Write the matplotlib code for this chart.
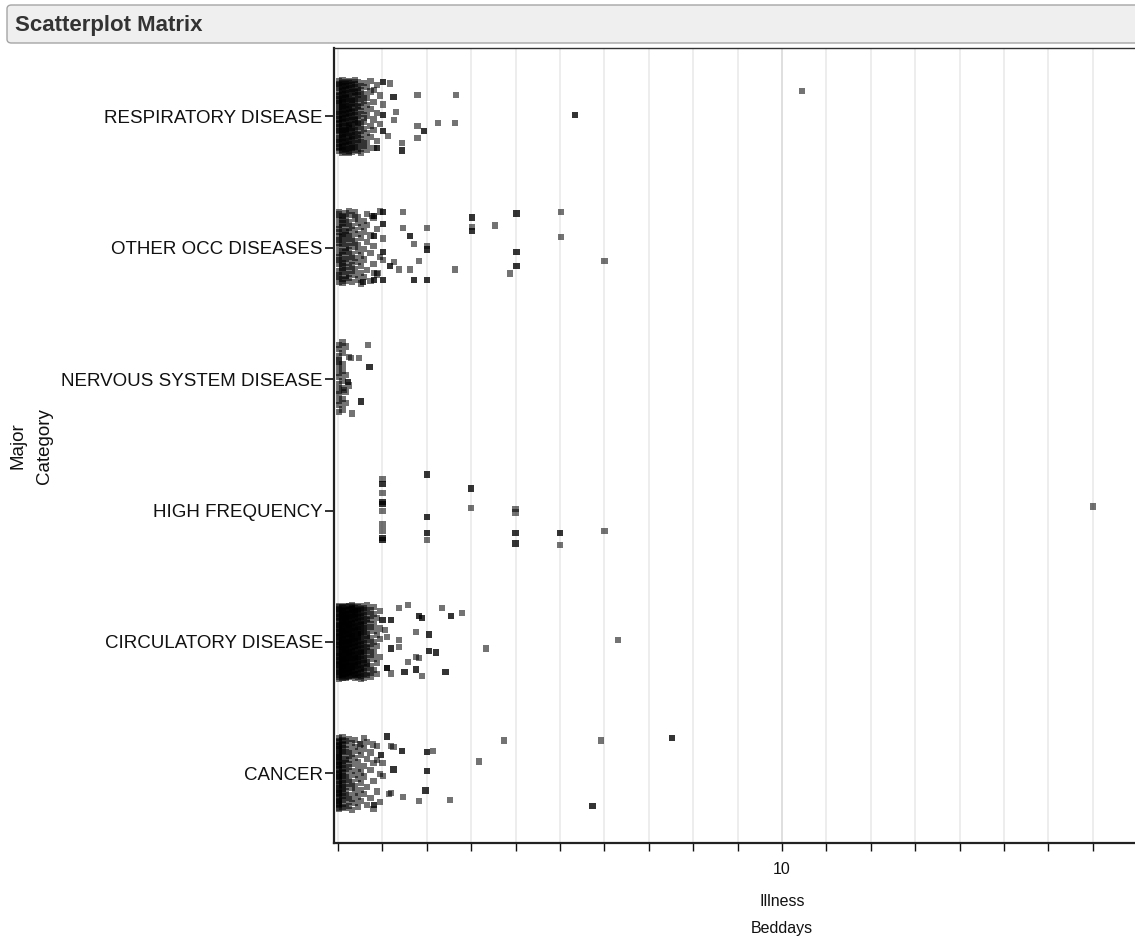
import matplotlib
matplotlib.use("Agg")
import matplotlib.pyplot as plt
from matplotlib.patches import FancyBboxPatch
import numpy as np

plt.rcParams['font.family'] = ['Liberation Sans', 'DejaVu Sans']

# ---------------- data ----------------
categories = ["CANCER", "CIRCULATORY DISEASE", "HIGH FREQUENCY",
              "NERVOUS SYSTEM DISEASE", "OTHER OCC DISEASES", "RESPIRATORY DISEASE"]

# dense low-value clusters (Beddays value -> number of records)
cluster_vals = [0.03, 0.10, 0.17, 0.24, 0.31, 0.38, 0.45, 0.52, 0.59, 0.66, 0.73, 0.80, 0.87, 0.94]
cancer_cluster = [40, 20, 12, 10, 8, 7, 6, 6, 5, 4, 3, 3, 2, 2]
circ_cluster   = [45, 42, 40, 38, 36, 33, 30, 26, 20, 15, 11, 8, 5, 4]
hf_cluster     = [0] * 14
nerv_cluster   = [14, 8, 4, 2, 1, 0, 0, 0, 0, 0, 0, 0, 0, 0]
other_cluster  = [18, 15, 13, 11, 9, 8, 7, 6, 5, 4, 3, 3, 2, 2]
resp_cluster   = [30, 28, 26, 24, 22, 20, 16, 12, 9, 7, 5, 4, 3, 2]

# individual records: Beddays value, jitter offset (as read), overlapping record count
resp_x   = [5.34, 10.45, 2.66, 1.79, 2.63, 2.25, 1.79, 1.94, 1.79, 1.45, 1.45, 1.02, 1.17, 1.25, 0.81, 1.30, 1.26, 1.02, 1.13, 1.02, 0.87, 1.02]
resp_jit = [0.013, 0.19, 0.165, 0.165, -0.053, -0.053, -0.076, -0.11, -0.165, -0.20, -0.26, 0.26, 0.25, 0.15, 0.20, 0.03, -0.03, 0.01, -0.15, -0.11, -0.24, 0.09]
resp_n   = [2, 1, 1, 1, 1, 1, 1, 2, 1, 1, 2, 2, 1, 2, 1, 1, 1, 2, 1, 2, 2, 1]

other_x   = [1.02, 1.47, 3.01, 4.02, 5.03, 1.02, 1.47, 2.01, 3.01, 3.01, 3.54, 5.03, 1.62, 1.02, 0.81, 1.71, 2.01, 2.01, 1.02, 4.02,
             6.00, 1.82, 1.02, 1.26, 1.17, 1.37, 1.62, 2.63, 4.02, 3.87, 1.02, 1.71, 2.01, 0.81, 0.57, 0.81, 0.89, 0.77, 0.81]
other_jit = [0.27, 0.27, 0.23, 0.26, 0.27, 0.18, 0.15, 0.15, 0.16, 0.13, 0.17, 0.08, 0.09, 0.07, 0.09, 0.03, 0.013, -0.013, -0.03, -0.03,
             -0.10, -0.10, -0.094, -0.106, -0.137, -0.165, -0.165, -0.165, -0.137, -0.196, -0.246, -0.246, -0.246, -0.246, -0.26, -0.19, -0.19, 0.24, 0.24]
other_n   = [2, 1, 2, 2, 1, 2, 1, 1, 1, 2, 1, 1, 2, 1, 2, 1, 1, 2, 2, 2,
             1, 1, 1, 1, 2, 1, 1, 1, 2, 1, 2, 2, 2, 2, 2, 1, 1, 1, 2]

nerv_x   = [0.68, 0.30, 0.47, 0.71, 0.51, 0.23, 0.14]
nerv_jit = [0.26, 0.16, 0.16, 0.09, -0.17, -0.02, -0.08]
nerv_n   = [1, 1, 1, 2, 2, 2, 1]

hf_x   = [1, 1, 1, 1, 1, 1, 1, 1, 1, 1, 2, 2, 2, 2, 3, 3, 4, 4, 4, 4, 5, 5, 6, 17]
hf_jit = [0.24, 0.20, 0.135, 0.066, 0.048, -0.002, -0.106, -0.157, -0.207, -0.225,
          0.274, -0.048, -0.17, -0.225, 0.167, 0.02, 0.01, -0.015, -0.17, -0.25, -0.17, -0.264, -0.155, 0.03]
hf_n   = [1, 2, 1, 2, 2, 1, 1, 1, 2, 2, 2, 2, 2, 1, 2, 1, 1, 1, 2, 2, 2, 1, 1, 1]

circ_x   = [1.58, 1.37, 2.35, 2.80, 2.55, 1.82, 1.90, 1.00, 1.20, 1.75, 2.05, 6.31, 3.33, 2.05, 2.20, 1.37, 1.37, 1.20, 1.58, 1.75,
            1.82, 2.42, 1.90, 1.75, 1.50, 1.10, 1.20, 1.05, 1.10]
circ_jit = [0.28, 0.26, 0.26, 0.22, 0.195, 0.195, 0.18, 0.165, 0.165, 0.076, 0.056, 0.013, -0.05, -0.066, -0.08, 0.013, -0.04, -0.05, -0.15, -0.115,
            -0.12, -0.23, -0.26, -0.21, -0.23, -0.20, -0.24, 0.09, 0.04]
circ_n   = [1, 1, 1, 1, 2, 2, 2, 2, 2, 1, 2, 1, 1, 2, 2, 1, 1, 2, 1, 1,
            1, 2, 1, 2, 2, 3, 1, 1, 1]

cancer_x   = [7.53, 5.93, 3.74, 1.10, 3.18, 5.73, 2.52, 2.00, 2.14, 2.00, 1.97, 1.82, 1.47, 1.45, 1.25, 1.02, 0.96, 0.81, 1.20, 1.15,
              0.87, 1.00, 0.79, 0.50, 1.25, 1.20]
cancer_jit = [0.27, 0.25, 0.25, 0.28, 0.09, -0.25, -0.20, 0.16, 0.17, 0.018, -0.13, -0.21, -0.18, 0.17, 0.03, -0.02, 0.14, -0.24, -0.15, -0.16,
              0.10, 0.08, 0.22, 0.22, 0.20, 0.21]
cancer_n   = [2, 1, 1, 2, 1, 2, 1, 2, 1, 2, 2, 1, 1, 2, 2, 1, 2, 2, 1, 1,
              1, 1, 1, 1, 1, 1]

x_ticks = list(range(0, 18))
x_tick_labels = ["" if t != 10 else "10" for t in x_ticks]

# ---------------- figure ----------------
W, H = 1135, 949
fig = plt.figure(figsize=(W / 100, H / 100), dpi=100)

# title bar
bar = FancyBboxPatch((7 / W, 1 - 43 / H), 1.2, 38 / H,
                     boxstyle="round,pad=0,rounding_size=0.004",
                     transform=fig.transFigure, facecolor="#efefef",
                     edgecolor="#a5a5a5", linewidth=1.0, clip_on=False)
fig.patches.append(bar)
fig.text(15 / W, 1 - 25 / H, "Scatterplot Matrix", fontsize=16, fontweight="bold",
         color="#333333", va="center", ha="left")

ax = fig.add_axes([334 / W, 1 - 843 / H, 1 - 334 / W, (843 - 48) / H])
ax.set_xlim(-0.09, 17.95)
ax.set_ylim(-0.53, 5.52)

for t in x_ticks:
    ax.axvline(t, color="#d6d6d6" if t == 10 else "#e8e8e8", lw=1.1, zorder=0)

alpha = 0.55
groups = [
    (cancer_cluster, cancer_x, cancer_jit, cancer_n),
    (circ_cluster, circ_x, circ_jit, circ_n),
    (hf_cluster, hf_x, hf_jit, hf_n),
    (nerv_cluster, nerv_x, nerv_jit, nerv_n),
    (other_cluster, other_x, other_jit, other_n),
    (resp_cluster, resp_x, resp_jit, resp_n),
]
golden = 0.6180339887
for ci, (cl, xs, js, ns) in enumerate(groups):
    px, py, pa = [], [], []
    k = 0
    for v, c in zip(cluster_vals, cl):
        for _ in range(c):
            k += 1
            j = (((k * golden) + ci * 0.37) % 1.0 - 0.5) * 0.56
            px.append(v)
            py.append(ci + j)
            pa.append(alpha)
    for v, j, n in zip(xs, js, ns):
        px.append(v)
        py.append(ci + j)
        pa.append(1 - (1 - alpha) ** n)
    cols = [(0.0, 0.0, 0.0, a) for a in pa]
    ax.scatter(px, py, s=20, marker="s", c=cols, linewidths=0, zorder=3)

ax.set_yticks(range(len(categories)))
ax.set_yticklabels(categories)
ax.set_xticks(x_ticks)
ax.set_xticklabels(x_tick_labels)

ax.tick_params(axis="y", length=6.5, width=1.2, pad=1.5, labelsize=13.5, colors="#111111")
ax.tick_params(axis="x", length=6, width=1.0, pad=8, labelsize=11.5, colors="#111111")

for s in ["left", "bottom"]:
    ax.spines[s].set_linewidth(1.6)
    ax.spines[s].set_color("#222222")
ax.spines["top"].set_linewidth(1.0)
ax.spines["top"].set_color("#333333")
ax.spines["right"].set_visible(False)

fig.text(782 / W, 1 - 901 / H, "Illness", fontsize=11.5, ha="center", va="center", color="#111111")
fig.text(782 / W, 1 - 928 / H, "Beddays", fontsize=11.5, ha="center", va="center", color="#111111")
fig.text(18 / W, 1 - 446 / H, "Major", fontsize=13.5, rotation=90, ha="center", va="center", color="#111111")
fig.text(45 / W, 1 - 446 / H, "Category", fontsize=13.5, rotation=90, ha="center", va="center", color="#111111")

fig.savefig("out.png", dpi=100)
